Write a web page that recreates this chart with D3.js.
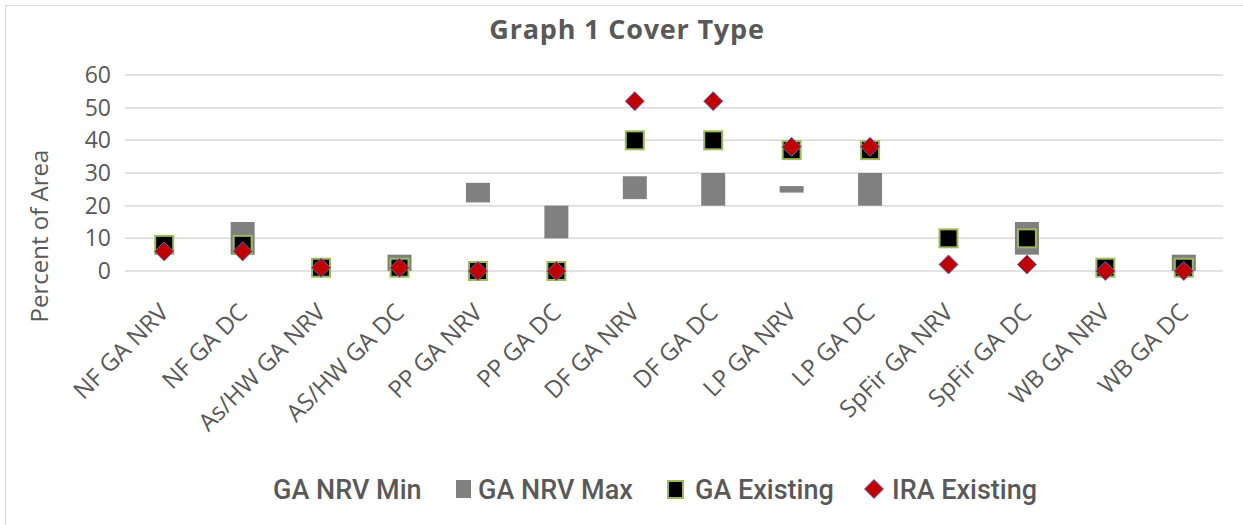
<!DOCTYPE html>
<html>
<head>
<meta charset="utf-8">
<script src="https://cdn.jsdelivr.net/npm/d3@7"></script>
<style>
    body { margin: 0; background: #fff; }
    text { fill: #595959; }
</style>
</head>
<body>
<div id="chart"></div>
<script>
// Chart data
const categories = ["NF GA NRV", "NF GA DC", "As/HW GA NRV", "AS/HW GA DC", "PP GA NRV", "PP GA DC",
    "DF GA NRV", "DF GA DC", "LP GA NRV", "LP GA DC", "SpFir GA NRV", "SpFir GA DC", "WB GA NRV", "WB GA DC"];
const nrvMin = [8, 5, 1, 0, 21, 10, 22, 20, 24, 20, 10, 5, 1, 0];
const nrvMax = [8, 15, 1, 5, 27, 20, 29, 30, 26, 30, 10, 15, 1, 5];
const gaExisting = [8, 8, 1, 1, 0, 0, 40, 40, 37, 37, 10, 10, 1, 1];
const iraExisting = [6, 6, 1, 1, 0, 0, 52, 52, 38, 38, 2, 2, 0, 0];
const yTicks = [0, 10, 20, 30, 40, 50, 60];
const seriesNames = ["GA NRV Min", "GA NRV Max", "GA Existing", "IRA Existing"];

const W = 1243, H = 525;
const margin = { top: 75, right: 20, bottom: 254, left: 125 };
const width = W - margin.left - margin.right;
const height = H - margin.top - margin.bottom;

const svg = d3.select("#chart").append("svg")
    .attr("width", W)
    .attr("height", H);

// outer chart border (only top/left visible in the picture)
svg.append("rect")
    .attr("x", 5.5).attr("y", 5.5)
    .attr("width", W + 10).attr("height", H + 10)
    .attr("fill", "none")
    .attr("stroke", "#d9d9d9");

const g = svg.append("g")
    .attr("transform", "translate(" + margin.left + "," + margin.top + ")");

// Scales
const x = d3.scaleBand().domain(categories).range([0, width]).padding(0);
const y = d3.scaleLinear().domain([0, 60]).range([height, 0]);

// Gridlines
g.selectAll(".grid")
    .data(yTicks)
    .join("line")
    .attr("class", "grid")
    .attr("x1", 0).attr("x2", width)
    .attr("y1", d => y(d)).attr("y2", d => y(d))
    .attr("stroke", "#d9d9d9")
    .attr("stroke-width", 1.5);

// Y axis
const yAxis = d3.axisLeft(y).tickValues(yTicks).tickSize(0).tickPadding(14);
g.append("g").attr("class", "y-axis").call(yAxis)
    .call(a => a.select(".domain").remove())
    .selectAll("text")
    .attr("font-family", "'Open Sans', sans-serif")
    .attr("font-size", 23)
    .attr("fill", "#595959");

// X axis labels (rotated)
const xAxis = d3.axisBottom(x).tickSize(0).tickPadding(0);
g.append("g").attr("class", "x-axis")
    .attr("transform", "translate(0," + height + ")")
    .call(xAxis)
    .call(a => a.select(".domain").remove())
    .selectAll("text")
    .attr("font-family", "'Open Sans', sans-serif")
    .attr("font-size", 24)
    .attr("fill", "#595959")
    .attr("dy", null)
    .attr("y", 0)
    .style("text-anchor", "end")
    .attr("transform", "translate(6,43)rotate(-45)");

const rows = categories.map((c, i) => ({
    cat: c, min: nrvMin[i], max: nrvMax[i], ga: gaExisting[i], ira: iraExisting[i]
}));

// NRV range bars (min is an invisible stack base)
const barW = 24;
g.selectAll(".nrvBar")
    .data(rows)
    .join("rect")
    .attr("class", "nrvBar")
    .attr("x", d => x(d.cat) + x.bandwidth() / 2 - barW / 2)
    .attr("y", d => y(d.max))
    .attr("width", barW)
    .attr("height", d => y(d.min) - y(d.max))
    .attr("fill", "#808080");

// GA Existing squares
const sq = 18;
g.selectAll(".gaSq")
    .data(rows)
    .join("rect")
    .attr("class", "gaSq")
    .attr("x", d => x(d.cat) + x.bandwidth() / 2 - sq / 2)
    .attr("y", d => y(d.ga) - sq / 2)
    .attr("width", sq)
    .attr("height", sq)
    .attr("fill", "#000")
    .attr("stroke", "#9bbb59")
    .attr("stroke-width", 2);

// IRA Existing diamonds
const dm = 9.5;
const diamond = `M0,${-dm}L${dm},0L0,${dm}L${-dm},0Z`;
g.selectAll(".iraDm")
    .data(rows)
    .join("path")
    .attr("class", "iraDm")
    .attr("d", diamond)
    .attr("transform", d => `translate(${x(d.cat) + x.bandwidth() / 2},${y(d.ira)})`)
    .attr("fill", "#c00000")
    .attr("stroke", "#5b6bbf")
    .attr("stroke-width", 1);

// Title
svg.append("text")
    .attr("x", 627).attr("y", 39)
    .attr("text-anchor", "middle")
    .attr("font-family", "'Open Sans', sans-serif")
    .attr("font-weight", "bold")
    .attr("font-size", 27)
    .attr("letter-spacing", 0.8)
    .text("Graph 1 Cover Type");

// Y axis title
svg.append("text")
    .attr("transform", "translate(48,236)rotate(-90)")
    .attr("text-anchor", "middle")
    .attr("font-family", "'Open Sans', sans-serif")
    .attr("font-size", 24)
    .text("Percent of Area");

// Legend
const legendFont = "Roboto, sans-serif";
const legendY = 489;
const legendItems = [
    { name: seriesNames[0], tx: 273, mark: null },
    { name: seriesNames[1], tx: 478, mark: "bar", mx: 456 },
    { name: seriesNames[2], tx: 695, mark: "sq", mx: 668 },
    { name: seriesNames[3], tx: 892, mark: "dm", mx: 874 }
];
const legend = svg.append("g").attr("class", "legend");
legendItems.forEach(it => {
    if (it.mark === "bar") {
        legend.append("rect").attr("x", it.mx).attr("y", legendY - 9)
            .attr("width", 15).attr("height", 18).attr("fill", "#808080");
    } else if (it.mark === "sq") {
        legend.append("rect").attr("x", it.mx).attr("y", legendY - 8)
            .attr("width", 15).attr("height", 17).attr("fill", "#000")
            .attr("stroke", "#9bbb59").attr("stroke-width", 2);
    } else if (it.mark === "dm") {
        legend.append("path").attr("d", diamond)
            .attr("transform", `translate(${it.mx},${legendY})`)
            .attr("fill", "#c00000").attr("stroke", "#5b6bbf");
    }
    legend.append("text")
        .attr("x", it.tx).attr("y", legendY)
        .attr("dy", "0.36em")
        .attr("font-family", legendFont)
        .attr("font-weight", 500)
        .attr("font-size", 27)
        .text(it.name);
});
</script>
</body>
</html>
